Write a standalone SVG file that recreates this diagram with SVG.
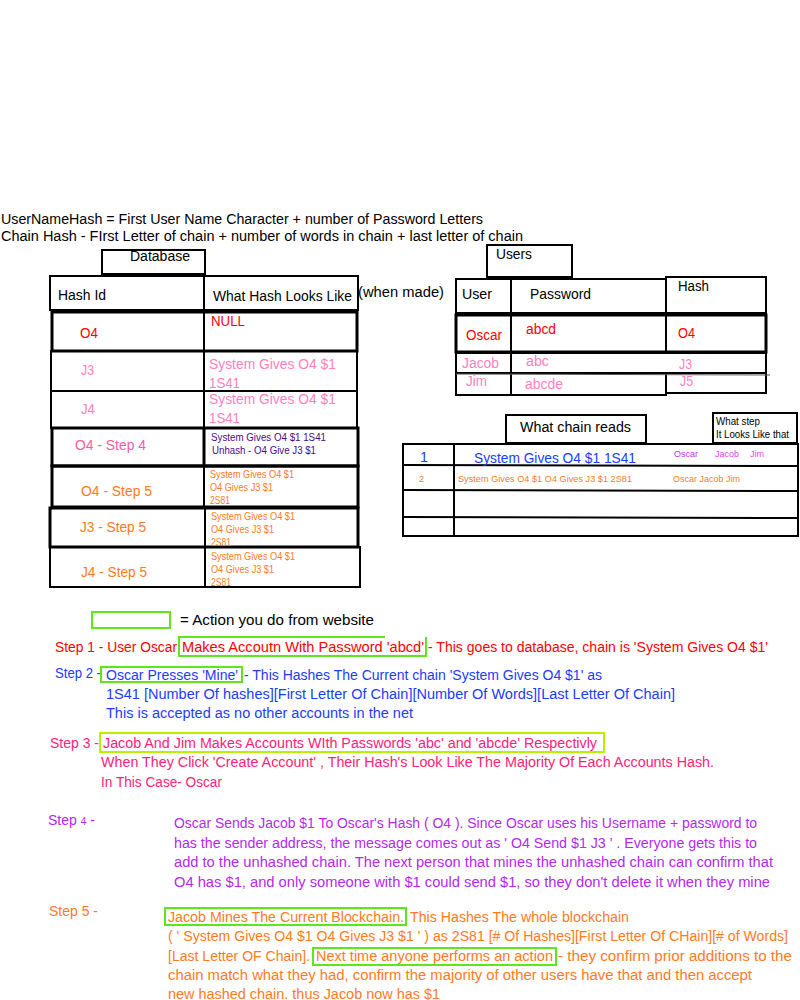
<svg xmlns="http://www.w3.org/2000/svg" width="800" height="1000" viewBox="0 0 800 1000">
<style>
text{font-family:"Liberation Sans",Arial,sans-serif;font-size:14px;fill:#000}
.b{fill:none;stroke:#000;stroke-width:2}
.b3{fill:none;stroke:#000;stroke-width:3}
.g{fill:none;stroke:#5ce61c;stroke-width:2}
.gy{fill:none;stroke:#b8f000;stroke-width:2}
.red{fill:#ff0000}
.pk{fill:#ff80c0}
.pk2{fill:#f060a0}
.dp{fill:#4a0a8a}
.or{fill:#ff7a22}
.bl{fill:#1a3cff}
.s3{fill:#ff2277}
.s4{fill:#b428f0}
.sm{font-size:10px}
</style>
<rect width="800" height="1000" fill="#fff"/>

<g id="header-text">
<text x="1" y="224" textLength="482" lengthAdjust="spacingAndGlyphs">UserNameHash = First User Name Character + number of Password Letters</text>
<text x="1" y="241" textLength="522" lengthAdjust="spacingAndGlyphs">Chain Hash - FIrst Letter of chain + number of words in chain + last letter of chain</text>
</g>

<g id="database">
<rect class="b" x="102" y="250" width="103" height="24"/>
<text x="130" y="261" textLength="60" lengthAdjust="spacingAndGlyphs">Database</text>
<rect class="b" x="50" y="276" width="308" height="34"/>
<line class="b" x1="204" y1="276" x2="204" y2="310"/>
<text x="58" y="300" textLength="48" lengthAdjust="spacingAndGlyphs">Hash Id</text>
<text x="213" y="301" textLength="139" lengthAdjust="spacingAndGlyphs">What Hash Looks Like</text>
<text x="358" y="297" textLength="86" lengthAdjust="spacingAndGlyphs">(when made)</text>

<rect class="b3" x="52" y="312" width="305" height="39"/>
<line class="b" x1="204" y1="312" x2="204" y2="351"/>
<text class="red" x="80" y="338" textLength="18" lengthAdjust="spacingAndGlyphs">O4</text>
<text class="red" x="211" y="326" textLength="34" lengthAdjust="spacingAndGlyphs">NULL</text>

<rect class="b" x="51" y="351" width="306" height="40"/>
<line class="b" x1="204" y1="351" x2="204" y2="391"/>
<text class="pk" x="81" y="375" textLength="13" lengthAdjust="spacingAndGlyphs">J3</text>
<text class="pk" x="209" y="369" textLength="127" lengthAdjust="spacingAndGlyphs">System Gives O4 $1</text>
<text class="pk" x="209" y="388" textLength="31" lengthAdjust="spacingAndGlyphs">1S41</text>

<rect class="b" x="51" y="391" width="306" height="37"/>
<line class="b" x1="204" y1="391" x2="204" y2="428"/>
<text class="pk" x="81" y="414" textLength="14" lengthAdjust="spacingAndGlyphs">J4</text>
<text class="pk" x="209" y="404" textLength="127" lengthAdjust="spacingAndGlyphs">System Gives O4 $1</text>
<text class="pk" x="209" y="423" textLength="31" lengthAdjust="spacingAndGlyphs">1S41</text>

<rect class="b3" x="52" y="428" width="306" height="38"/>
<line class="b3" x1="204" y1="428" x2="204" y2="466"/>
<text class="pk2" x="75" y="450" textLength="71" lengthAdjust="spacingAndGlyphs">O4 - Step 4</text>
<text class="dp sm" x="211" y="441" textLength="115" lengthAdjust="spacingAndGlyphs">System Gives O4 $1 1S41</text>
<text class="dp sm" x="212" y="454" textLength="104" lengthAdjust="spacingAndGlyphs">Unhash - O4 Give J3 $1</text>

<rect class="b3" x="52" y="466" width="306" height="41"/>
<line class="b" x1="204" y1="466" x2="204" y2="507"/>
<text class="or" x="81" y="496" textLength="71" lengthAdjust="spacingAndGlyphs">O4 - Step 5</text>
<text class="or sm" x="210" y="478" textLength="84" lengthAdjust="spacingAndGlyphs">System Gives O4 $1</text>
<text class="or sm" x="210" y="491" textLength="63" lengthAdjust="spacingAndGlyphs">O4 Gives J3 $1</text>
<text class="or sm" x="210" y="504" textLength="20" lengthAdjust="spacingAndGlyphs">2S81</text>

<rect class="b3" x="50" y="508" width="308" height="39"/>
<line class="b" x1="205" y1="508" x2="205" y2="547"/>
<text class="or" x="80" y="532" textLength="66" lengthAdjust="spacingAndGlyphs">J3 - Step 5</text>
<text class="or sm" x="211" y="520" textLength="84" lengthAdjust="spacingAndGlyphs">System Gives O4 $1</text>
<text class="or sm" x="211" y="533" textLength="63" lengthAdjust="spacingAndGlyphs">O4 Gives J3 $1</text>
<text class="or sm" x="211" y="546" textLength="20" lengthAdjust="spacingAndGlyphs">2S81</text>

<rect class="b" x="50" y="547" width="310" height="40"/>
<line class="b" x1="205" y1="547" x2="205" y2="587"/>
<text class="or" x="81" y="577" textLength="66" lengthAdjust="spacingAndGlyphs">J4 - Step 5</text>
<text class="or sm" x="211" y="560" textLength="84" lengthAdjust="spacingAndGlyphs">System Gives O4 $1</text>
<text class="or sm" x="211" y="573" textLength="63" lengthAdjust="spacingAndGlyphs">O4 Gives J3 $1</text>
<text class="or sm" x="211" y="586" textLength="20" lengthAdjust="spacingAndGlyphs">2S81</text>
</g>

<g id="users">
<rect class="b" x="487" y="245" width="85" height="32"/>
<text x="496" y="259" textLength="36" lengthAdjust="spacingAndGlyphs">Users</text>
<rect class="b" x="456" y="279" width="210" height="34"/>
<line class="b" x1="511" y1="279" x2="511" y2="313"/>
<rect class="b" x="666" y="277" width="100" height="36"/>
<text x="462" y="299" textLength="30" lengthAdjust="spacingAndGlyphs">User</text>
<text x="530" y="299" textLength="61" lengthAdjust="spacingAndGlyphs">Password</text>
<text x="678" y="291" textLength="31" lengthAdjust="spacingAndGlyphs">Hash</text>

<rect class="b3" x="456" y="315" width="310" height="37"/>
<line class="b" x1="511" y1="315" x2="511" y2="352"/>
<line class="b" x1="666" y1="315" x2="666" y2="352"/>
<text class="red" x="466" y="340" textLength="36" lengthAdjust="spacingAndGlyphs">Oscar</text>
<text class="red" x="526" y="334" textLength="30" lengthAdjust="spacingAndGlyphs">abcd</text>
<text class="red" x="678" y="338" textLength="17" lengthAdjust="spacingAndGlyphs">O4</text>

<rect class="b" x="456" y="353" width="310" height="20"/>
<rect class="b" x="456" y="373" width="210" height="22"/>
<rect class="b" x="666" y="373" width="100" height="20"/>
<line class="b" x1="511" y1="353" x2="511" y2="395"/>
<line x1="456" y1="374" x2="770" y2="375" stroke="#555" stroke-width="1"/>
<text class="pk" x="462" y="368" textLength="37" lengthAdjust="spacingAndGlyphs">Jacob</text>
<text class="pk" x="526" y="366" textLength="23" lengthAdjust="spacingAndGlyphs">abc</text>
<text class="pk" x="679" y="369" textLength="13" lengthAdjust="spacingAndGlyphs">J3</text>
<text class="pk" x="466" y="386" textLength="21" lengthAdjust="spacingAndGlyphs">Jim</text>
<text class="pk" x="525" y="389" textLength="38" lengthAdjust="spacingAndGlyphs">abcde</text>
<text class="pk" x="680" y="386" textLength="13" lengthAdjust="spacingAndGlyphs">J5</text>
</g>

<g id="chain">
<rect class="b" x="506" y="415" width="140" height="28"/>
<text x="520" y="432" textLength="111" lengthAdjust="spacingAndGlyphs">What chain reads</text>
<rect class="b" x="713" y="413" width="84" height="30"/>
<text class="sm" x="716" y="425" textLength="44" lengthAdjust="spacingAndGlyphs">What step</text>
<text class="sm" x="716" y="438" textLength="73" lengthAdjust="spacingAndGlyphs">It Looks Like that</text>
<rect class="b" x="403" y="444" width="395" height="92"/>
<line class="b" x1="454" y1="444" x2="454" y2="536"/>
<line class="b" x1="403" y1="465" x2="798" y2="466"/>
<line class="b" x1="403" y1="490" x2="798" y2="491"/>
<line class="b" x1="403" y1="517" x2="798" y2="518"/>
<text class="bl" x="420" y="462" textLength="8" lengthAdjust="spacingAndGlyphs">1</text>
<text class="bl" x="474" y="463" textLength="162" lengthAdjust="spacingAndGlyphs">System Gives O4 $1 1S41</text>
<text x="674" y="457" style="fill:#c030f0;font-size:9px" textLength="24" lengthAdjust="spacingAndGlyphs">Oscar</text>
<text x="715" y="457" style="fill:#e83ae8;font-size:9px" textLength="24" lengthAdjust="spacingAndGlyphs">Jacob</text>
<text x="750" y="457" style="fill:#f040f0;font-size:9px" textLength="14" lengthAdjust="spacingAndGlyphs">Jim</text>
<text class="or" x="419" y="482" style="font-size:9px" textLength="5" lengthAdjust="spacingAndGlyphs">2</text>
<text class="or" x="458" y="482" style="font-size:9px" textLength="174" lengthAdjust="spacingAndGlyphs">System Gives O4 $1 O4 Gives J3 $1 2S81</text>
<text class="or" x="673" y="482" style="font-size:9px" textLength="67" lengthAdjust="spacingAndGlyphs">Oscar Jacob Jim</text>
</g>

<g id="legend">
<rect class="g" x="92" y="612" width="78" height="16"/>
<text x="180" y="625" textLength="194" lengthAdjust="spacingAndGlyphs">=  Action you do from website</text>
</g>

<g id="step1">
<text class="red" x="55" y="652" textLength="122" lengthAdjust="spacingAndGlyphs">Step 1 - User Oscar</text>
<path class="g" d="M385 637 H179 V656 H426 V637"/>
<text class="red" x="182" y="652" textLength="242" lengthAdjust="spacingAndGlyphs">Makes Accoutn With Password 'abcd'</text>
<text class="red" x="428" y="652" textLength="340" lengthAdjust="spacingAndGlyphs">- This goes to database, chain is 'System Gives O4 $1'</text>
</g>

<g id="step2">
<text class="bl" x="55" y="678" textLength="46" lengthAdjust="spacingAndGlyphs">Step 2 -</text>
<rect class="g" x="101" y="667" width="141" height="15"/>
<text class="bl" x="106" y="680" textLength="132" lengthAdjust="spacingAndGlyphs">Oscar Presses 'Mine'</text>
<text class="bl" x="244" y="680" textLength="358" lengthAdjust="spacingAndGlyphs">- This Hashes The Current chain 'System Gives O4 $1' as</text>
<text class="bl" x="106" y="699" textLength="569" lengthAdjust="spacingAndGlyphs">1S41 [Number Of hashes][First Letter Of Chain][Number Of Words][Last Letter Of Chain]</text>
<text class="bl" x="106" y="718" textLength="307" lengthAdjust="spacingAndGlyphs">This is accepted as no other accounts in the net</text>
</g>

<g id="step3">
<text class="s3" x="50" y="748" textLength="49" lengthAdjust="spacingAndGlyphs">Step 3 -</text>
<rect class="gy" x="100" y="733" width="504" height="19"/>
<text class="s3" x="103" y="748" textLength="494" lengthAdjust="spacingAndGlyphs">Jacob And Jim Makes Accounts WIth Passwords 'abc' and 'abcde' Respectivly</text>
<text class="s3" x="101" y="767" textLength="613" lengthAdjust="spacingAndGlyphs">When They Click 'Create Account' , Their Hash's Look Like The Majority Of Each Accounts Hash.</text>
<text class="s3" x="101" y="787" textLength="121" lengthAdjust="spacingAndGlyphs">In This Case- Oscar</text>
</g>

<g id="step4">
<text class="s4" x="48" y="825">Step <tspan style="font-size:10px">4</tspan> -</text>
<text class="s4" x="174" y="828" textLength="583" lengthAdjust="spacingAndGlyphs">Oscar Sends Jacob $1 To Oscar's Hash ( O4 ). Since Oscar uses his Username + password to</text>
<text class="s4" x="174" y="848" textLength="583" lengthAdjust="spacingAndGlyphs">has the sender address, the message comes out as ' O4 Send $1 J3 ' . Everyone gets this to</text>
<text class="s4" x="174" y="867" textLength="599" lengthAdjust="spacingAndGlyphs">add to the unhashed chain. The next person that mines the unhashed chain can confirm that</text>
<text class="s4" x="174" y="887" textLength="596" lengthAdjust="spacingAndGlyphs">O4 has $1, and only someone with $1 could send $1, so they don't delete it when they mine</text>
</g>

<g id="step5">
<text class="or" x="49" y="916" textLength="49" lengthAdjust="spacingAndGlyphs">Step 5 -</text>
<rect class="g" x="165" y="908" width="241" height="17"/>
<text class="or" x="168" y="922" textLength="236" lengthAdjust="spacingAndGlyphs">Jacob Mines The Current Blockchain.</text>
<text class="or" x="410" y="922" textLength="219" lengthAdjust="spacingAndGlyphs">This Hashes The whole blockchain</text>
<text class="or" x="168" y="941" textLength="620" lengthAdjust="spacingAndGlyphs">( ' System Gives O4 $1 O4 Gives J3 $1 ' ) as 2S81 [# Of Hashes][First Letter Of CHain][# of Words]</text>
<text class="or" x="168" y="961" textLength="142" lengthAdjust="spacingAndGlyphs">[Last Letter OF Chain].</text>
<rect class="g" x="313" y="948" width="243" height="17"/>
<text class="or" x="316" y="961" textLength="237" lengthAdjust="spacingAndGlyphs">Next time anyone performs an action</text>
<text class="or" x="558" y="961" textLength="234" lengthAdjust="spacingAndGlyphs">- they confirm prior additions to the</text>
<text class="or" x="168" y="980" textLength="584" lengthAdjust="spacingAndGlyphs">chain match what they had, confirm the majority of other users have that and then accept</text>
<text class="or" x="168" y="999" textLength="272" lengthAdjust="spacingAndGlyphs">new hashed chain. thus Jacob now has $1</text>
</g>
</svg>
